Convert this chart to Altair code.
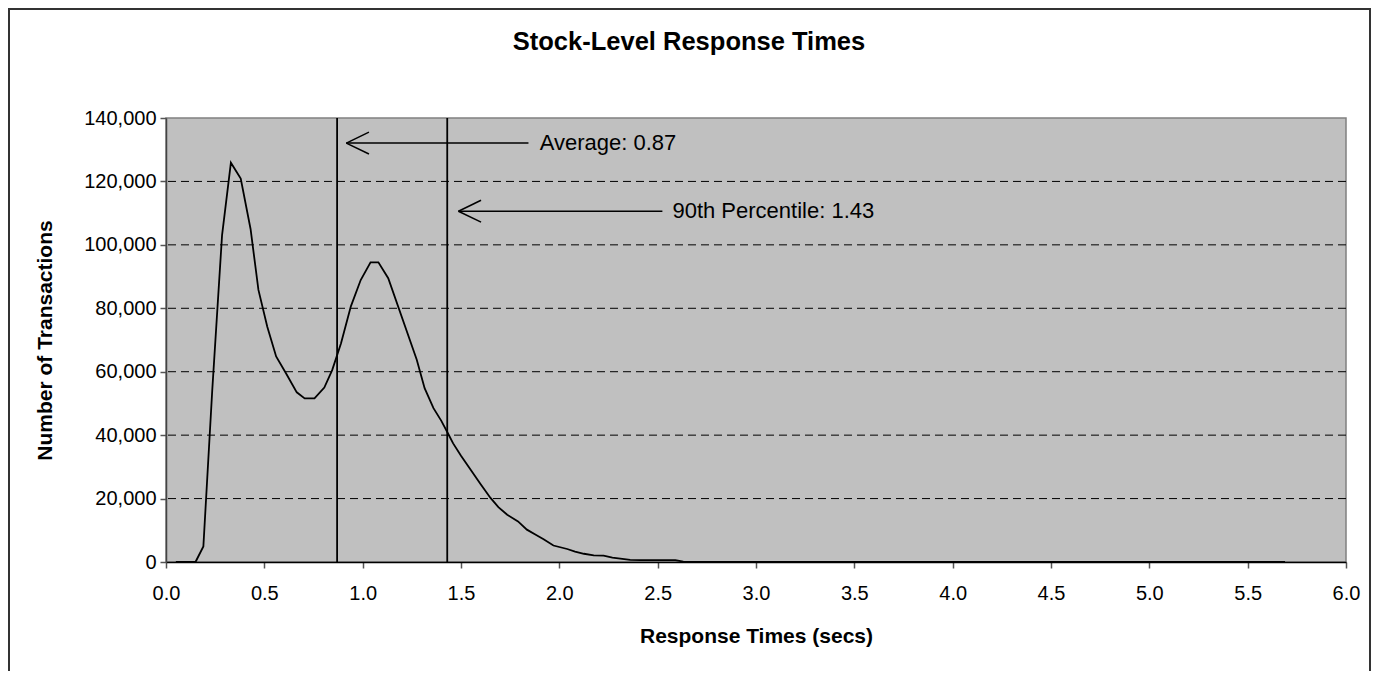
import altair as alt
import pandas as pd

# ---- data ----
resp_x = [0.05, 0.15, 0.19, 0.235, 0.285, 0.33, 0.38, 0.43, 0.47, 0.515, 0.56, 0.61,
          0.665, 0.705, 0.755, 0.805, 0.845, 0.89, 0.94, 0.99, 1.04, 1.08, 1.13,
          1.275, 1.315, 1.36, 1.40, 1.44, 1.46, 1.50, 1.55, 1.60, 1.65, 1.69, 1.735,
          1.79, 1.835, 1.88, 1.92, 1.97, 2.04, 2.08, 2.125, 2.175, 2.225, 2.27, 2.32,
          2.36, 2.41, 2.45, 2.50, 2.55, 2.59, 2.63, 2.70, 3.0, 3.5, 4.0, 4.5, 5.0, 5.5, 5.69]
resp_y = [0, 0, 4900, 54000, 103000, 125900, 120900, 105000, 85800, 74200, 64800, 59500,
          53500, 51600, 51600, 55000, 60500, 69000, 80600, 88900, 94500, 94500, 89500,
          63800, 54800, 48500, 44500, 39800, 37400, 33500, 29000, 24500, 20200, 17300, 14900,
          12800, 10200, 8600, 7200, 5200, 4100, 3300, 2600, 2100, 2000, 1400, 1000,
          700, 600, 600, 600, 600, 600, 100, 50, 20, 10, 0, 0, 0, 0, 0]

chart_title = "Stock-Level Response Times"
marker_vals = [0.87, 1.43]
arrow_labels = ["Average: 0.87", "90th Percentile: 1.43"]
arrow_tip_x = [0.917, 1.487]
arrow_tip_y = [132100, 110600]
arrow_tail_x = [1.843, 2.524]
label_x = [1.90, 2.575]
head_dx = 0.115
head_dy = 3450

x_ticks = [i * 0.5 for i in range(13)]
y_ticks = [i * 20000 for i in range(8)]
grid_vals = [20000, 40000, 60000, 80000, 100000, 120000]

FONT = "Liberation Sans"

curve = pd.DataFrame({"t": resp_x, "n": resp_y})
markers = pd.DataFrame({"t": marker_vals, "y0": [0, 0], "y1": [140000, 140000]})
arrows = pd.DataFrame({"tip": arrow_tip_x, "y": arrow_tip_y, "tail": arrow_tail_x,
                       "lx": label_x, "label": arrow_labels})
heads = pd.DataFrame({
    "x": arrow_tip_x + arrow_tip_x,
    "y": arrow_tip_y + arrow_tip_y,
    "x2": [v + head_dx for v in arrow_tip_x] * 2,
    "y2": [arrow_tip_y[0] + head_dy, arrow_tip_y[1] + head_dy,
           arrow_tip_y[0] - head_dy, arrow_tip_y[1] - head_dy],
})
grid = pd.DataFrame({"g": grid_vals})

xs = alt.Scale(domain=[0, 6], nice=False, zero=False)
ys = alt.Scale(domain=[0, 140000], nice=False)

xaxis = alt.Axis(values=x_ticks, format=".1f", grid=False, tickSize=6, tickColor="#555555",
                 tickWidth=1.5, domainColor="#000000", domainWidth=1.5,
                 labelFont=FONT, labelFontSize=20, labelColor="#000000", labelPadding=15,
                 title="Response Times (secs)", titleFont=FONT, titleFontSize=21,
                 titleFontWeight="bold", titleColor="#000000", titleY=74,
                 titleBaseline="middle", labelFlush=False)
yaxis = alt.Axis(values=y_ticks, format=",d", grid=False, tickSize=6, tickColor="#555555",
                 tickWidth=1.5, domainColor="#444444", domainWidth=1.5,
                 labelFont=FONT, labelFontSize=20, labelColor="#000000", labelPadding=4,
                 title="Number of Transactions", titleFont=FONT, titleFontSize=21,
                 titleFontWeight="bold", titleColor="#000000", titleX=-121, titleY=222,
                 titleBaseline="middle", titleAngle=-90, labelFlush=False)


def X(f):
    return alt.X(f, type="quantitative", scale=xs, axis=xaxis)


def Y(f):
    return alt.Y(f, type="quantitative", scale=ys, axis=yaxis)


grid_layer = alt.Chart(grid).mark_rule(color="#000000", strokeWidth=1, strokeDash=[8, 5]).encode(
    y=Y("g"))

line_layer = alt.Chart(curve).mark_line(color="#000000", strokeWidth=1.8).encode(
    x=X("t"), y=Y("n"))

marker_layer = alt.Chart(markers).mark_rule(color="#000000", strokeWidth=1.8).encode(
    x=X("t"), y=Y("y0"), y2="y1")

shaft_layer = alt.Chart(arrows).mark_rule(color="#000000", strokeWidth=1.5).encode(
    x=X("tip"), x2="tail", y=Y("y"))

head_layer = alt.Chart(heads).mark_rule(color="#000000", strokeWidth=1.5).encode(
    x=X("x"), x2="x2", y=Y("y"), y2="y2")

text_layer = alt.Chart(arrows).mark_text(align="left", baseline="middle", font=FONT,
                                         fontSize=22, color="#000000").encode(
    x=X("lx"), y=Y("y"), text="label")

title_layer = alt.Chart(pd.DataFrame({"title": [chart_title]})).mark_text(
    align="center", baseline="middle", font=FONT, fontSize=25.5, fontWeight="bold",
    color="#000000").encode(x=alt.value(523), y=alt.value(-76), text="title")

border_layer = alt.Chart(pd.DataFrame({"k": [0]})).mark_rect(
    fillOpacity=0, stroke="#333333", strokeWidth=2).encode(
    x=alt.value(-157), x2=alt.value(1204), y=alt.value(-109), y2=alt.value(600))

chart = alt.layer(grid_layer, line_layer, marker_layer, shaft_layer, head_layer,
                  text_layer, title_layer, border_layer).properties(
    width=1180, height=444,
    padding={"left": 158, "top": 110, "right": 25, "bottom": 109},
    autosize=alt.AutoSizeParams(type="none"),
    background="#FFFFFF",
).configure_view(fill="#C0C0C0", stroke="#808080", strokeWidth=1.5)

chart.save("out.html", embed_options={"renderer": "svg", "actions": False})
